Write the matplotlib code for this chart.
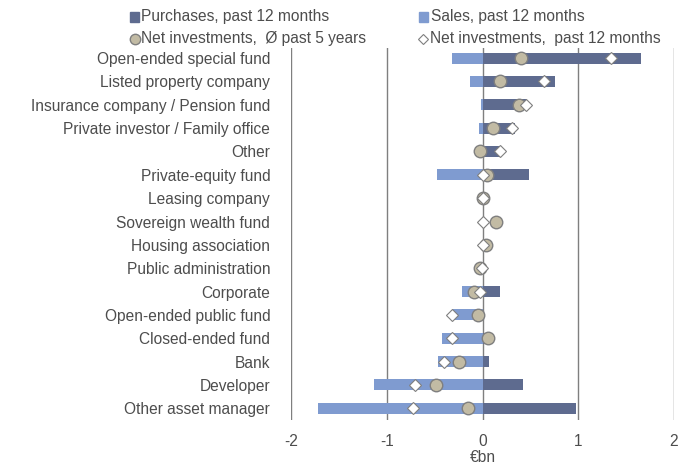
import numpy as np
import matplotlib.pyplot as plt
from matplotlib.lines import Line2D
from matplotlib.patches import Rectangle

# data (EUR bn), top to bottom
categories = [
    "Open-ended special fund", "Listed property company", "Insurance company / Pension fund",
    "Private investor / Family office", "Other", "Private-equity fund", "Leasing company",
    "Sovereign wealth fund", "Housing association", "Public administration", "Corporate",
    "Open-ended public fund", "Closed-ended fund", "Bank", "Developer", "Other asset manager",
]
purchases = [1.66, 0.76, 0.46, 0.34, 0.18, 0.49, 0.0, 0.0, 0.0, 0.0, 0.18, 0.01, 0.10, 0.066, 0.42, 0.98]
sales = [-0.32, -0.13, -0.015, -0.035, 0.0, -0.48, 0.0, 0.0, 0.0, 0.0, -0.21, -0.32, -0.42, -0.46, -1.13, -1.72]
net_5y = [0.40, 0.18, 0.385, 0.11, -0.025, 0.05, 0.01, 0.14, 0.035, -0.025, -0.09, -0.05, 0.06, -0.25, -0.49, -0.15]
net_12m = [1.34, 0.64, 0.455, 0.31, 0.18, 0.01, 0.01, 0.0, 0.0, -0.01, -0.03, -0.32, -0.32, -0.40, -0.70, -0.73]
legend_labels = ["Purchases, past 12 months", "Sales, past 12 months",
                 "Net investments,  Ø past 5 years", "Net investments,  past 12 months"]

c_purch = "#5e6b8f"
c_sales = "#7f9bd0"
c_circle = "#c2bba4"
txt = "#4d4d4d"
fs = 11.2

plt.rcParams['font.family'] = ['Liberation Sans', 'DejaVu Sans']
plt.rcParams['axes.unicode_minus'] = False

W, H = 688, 467
fig = plt.figure(figsize=(W / 100, H / 100), dpi=100)
ax = fig.add_axes([291 / W, 1 - 420 / H, 383 / W, 372 / H])

y = np.arange(len(categories))
h = 0.47
ax.barh(y, sales, height=h, color=c_sales, zorder=2)
ax.barh(y, purchases, height=h, color=c_purch, zorder=2)
ax.plot(net_5y, y, 'o', ms=9, mfc=c_circle, mec="#7f7f7f", mew=1, ls='none', zorder=3)
ax.plot(net_12m, y, 'D', ms=6.5, mfc="white", mec="#7f7f7f", mew=0.8, ls='none', zorder=4)

ax.set_xlim(-2, 2)
ax.set_ylim(15.5, -0.43)
for xv in [-2, -1, 0, 1, 2]:
    ax.axvline(xv, color="#7f7f7f", lw=1, zorder=1)
for s in ax.spines.values():
    s.set_visible(False)

ax.set_xticks([-2, -1, 0, 1, 2])
ax.tick_params(axis='x', length=0, pad=10, labelsize=fs, labelcolor=txt)
ax.set_yticks(y)
ax.set_yticklabels(categories)
ax.tick_params(axis='y', length=0, pad=15, labelsize=fs, labelcolor=txt)
ax.set_xlabel("€bn", fontsize=fs, color=txt, labelpad=1)

# legend, laid out by hand in figure pixels
def fx(px):
    return px / W

def fy(py):
    return 1 - py / H

r1, r2 = 17, 39
fig.add_artist(Rectangle((fx(130), fy(r1 + 4.5)), 9 / W, 9 / H, color=c_purch, transform=fig.transFigure))
fig.add_artist(Rectangle((fx(419), fy(r1 + 4.5)), 9 / W, 9 / H, color=c_sales, transform=fig.transFigure))
fig.add_artist(Line2D([fx(134.5)], [fy(r2)], marker='o', ms=7.5, mfc=c_circle, mec="#7f7f7f",
                      mew=1, ls='none', transform=fig.transFigure))
fig.add_artist(Line2D([fx(423)], [fy(r2)], marker='D', ms=5.5, mfc="white", mec="#7f7f7f",
                      mew=0.8, ls='none', transform=fig.transFigure))
for (px, py), lab in zip([(141, r1), (431, r1), (141, r2), (430, r2)], legend_labels):
    fig.text(fx(px), fy(py), lab, fontsize=fs, color=txt, ha='left', va='center')

fig.savefig("out.png", dpi=100)
